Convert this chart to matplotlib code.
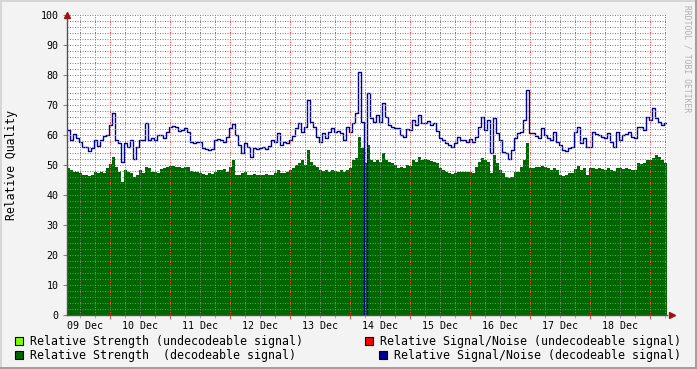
import matplotlib
matplotlib.use("Agg")
import matplotlib.pyplot as plt
from matplotlib.patches import Rectangle
import numpy as np

# ---- data (samples every 1.2 h starting 09 Dec 06:48) ----
start_hour = 6.8
step_hour = 1.2
day_labels = ["09 Dec", "10 Dec", "11 Dec", "12 Dec", "13 Dec",
              "14 Dec", "15 Dec", "16 Dec", "17 Dec", "18 Dec"]

snr_decodeable = [
    61.7, 58.3, 60.5, 58.9, 57.8, 55.9, 55.9, 54.8, 55.6, 58.3, 56.5, 58.3, 59.7, 60.0, 63.3,
    67.2, 58.3, 57.2, 51.1, 57.2, 55.9, 58.3, 52.0, 55.9, 58.3, 58.3, 64.0, 58.3, 58.9, 58.3,
    60.0, 60.0, 58.9, 61.1, 62.8,
    63.0, 62.8, 61.3, 61.7, 62.2, 61.1, 57.8, 57.4, 57.8, 57.8, 55.6, 55.2, 55.0, 55.2, 58.3,
    58.6, 58.3, 57.8, 59.4, 62.2, 63.7, 60.0, 56.7, 53.9, 57.4, 55.9, 52.8, 55.6, 55.2, 55.6,
    55.9, 55.2, 56.3,
    58.3, 57.8, 60.6, 56.7, 57.8, 57.4, 58.3, 59.7, 62.2, 63.9, 61.1, 62.8, 71.7, 64.4, 62.8,
    59.4, 57.8, 60.6, 58.9, 61.1, 62.2, 61.1, 61.4, 60.6, 58.3, 62.8, 61.1, 63.9, 67.2, 81.1,
    64.4, 0.0, 73.9,
    65.6, 64.4, 66.7, 64.4, 70.6, 65.9, 63.3, 62.8, 62.2, 62.2, 60.0, 59.2, 61.9, 61.7, 65.0,
    63.3, 66.7, 63.9, 64.1, 64.8, 63.3, 63.9, 61.4, 58.9, 58.3, 57.4, 56.7, 56.1, 57.2, 59.4,
    58.3, 58.3, 57.8,
    58.6, 57.8, 59.2, 62.8, 65.9, 61.7, 65.0, 53.9, 65.6, 60.6, 58.3, 54.4, 53.9, 51.9, 55.0,
    58.9, 60.8, 61.1, 65.0, 75.0, 60.8, 60.8, 59.7, 58.9, 62.2, 60.0, 58.9, 58.3, 61.1, 57.8,
    56.7, 55.0, 54.8, 55.6,
    55.9, 61.1, 62.8, 57.2, 58.9, 56.1, 56.1, 61.1, 60.3, 60.0, 59.4, 58.9, 60.8, 57.8, 55.9,
    61.1, 58.3, 60.0, 60.3, 61.1, 59.4, 58.9, 62.8, 62.8, 61.7, 65.9, 65.0, 68.9, 65.6, 64.4,
    63.3, 63.9,
]

strength_decodeable = [
    48.9, 48.3, 47.8, 47.8, 47.2, 46.7, 46.7, 46.3, 46.7, 47.8, 47.2, 47.8, 47.4, 48.9, 50.3,
    52.8, 49.4, 47.8, 44.4, 48.3, 47.8, 47.2, 46.1, 46.7, 48.3, 47.4, 49.4, 48.9, 47.8, 47.8,
    47.2, 48.6, 48.9, 49.4, 49.7,
    49.7, 49.4, 49.2, 48.9, 49.4, 49.4, 48.0, 47.8, 47.8, 47.2, 46.9, 46.7, 47.2, 46.9, 47.8,
    48.3, 48.3, 48.6, 47.8, 49.4, 51.7, 46.7, 46.7, 47.2, 47.8, 46.7, 46.7, 46.9, 46.7, 46.7,
    46.7, 46.9, 46.7,
    46.7, 47.2, 48.3, 47.2, 47.2, 47.8, 48.3, 48.9, 50.0, 50.6, 51.7, 50.0, 55.0, 51.1, 50.0,
    49.4, 48.3, 48.1, 48.3, 47.8, 48.3, 48.1, 47.8, 48.3, 47.8, 48.3, 48.9, 51.7, 52.2, 59.4,
    55.6, 50.6, 56.7,
    51.7, 51.1, 51.7, 51.1, 53.9, 51.7, 51.1, 50.6, 50.0, 48.9, 49.4, 48.9, 50.0, 49.7, 51.7,
    51.1, 52.8, 51.7, 51.9, 51.7, 51.3, 51.1, 50.6, 48.9, 48.3, 47.8, 47.2, 46.9, 47.2, 47.8,
    47.8, 47.8, 47.8,
    47.8, 47.4, 49.4, 51.1, 52.2, 51.7, 51.1, 47.2, 53.3, 50.6, 48.3, 47.4, 45.9, 45.6, 45.9,
    47.8, 47.8, 49.4, 51.7, 57.2, 48.9, 48.9, 49.4, 49.2, 49.7, 49.2, 48.9, 48.3, 48.9, 48.3,
    46.7, 46.3, 46.7, 47.2,
    47.2, 48.6, 49.7, 48.3, 48.9, 46.7, 48.9, 48.9, 48.6, 48.9, 48.6, 48.3, 48.9, 48.3, 48.0,
    48.9, 48.9, 48.6, 48.9, 48.6, 48.3, 48.3, 50.6, 50.3, 50.6, 51.7, 51.7, 52.2, 53.3, 52.8,
    51.7, 50.8,
]

legend_labels = [
    "Relative Strength (undecodeable signal)",
    "Relative Strength  (decodeable signal)",
    "Relative Signal/Noise (undecodeable signal)",
    "Relative Signal/Noise (decodeable signal)",
]
legend_colors = ["#80FF00", "#006600", "#FF0000", "#000090"]

# ---- figure ----
W, H = 697, 369
mono = "DejaVu Sans Mono"
fig = plt.figure(figsize=(W / 100, H / 100), dpi=100, facecolor="#F3F3F3")

def fx(px):
    return px / W

def fy(py):
    return 1 - py / H

# 3D frame
fig.add_artist(Rectangle((0, fy(2)), 1, 2 / H, transform=fig.transFigure, color="#D6D6D6", lw=0))
fig.add_artist(Rectangle((0, 0), 2 / W, 1, transform=fig.transFigure, color="#D6D6D6", lw=0))
fig.add_artist(Rectangle((0, 0), 1, 2 / H, transform=fig.transFigure, color="#A0A0A0", lw=0))
fig.add_artist(Rectangle((fx(W - 2), 0), 2 / W, 1, transform=fig.transFigure, color="#A0A0A0", lw=0))

ax = fig.add_axes([fx(67), fy(315), 600 / W, 300 / H])
ax.set_facecolor("white")

n = len(snr_decodeable)
t = start_hour + step_hour * np.arange(n + 1)
g = np.append(strength_decodeable, strength_decodeable[-1])
b = np.append(snr_decodeable, snr_decodeable[-1])

ax.fill_between(t, 0, g, step="post", color="#006600", lw=0, zorder=1)
ax.step(t, b, where="post", color="#000090", lw=1.0, zorder=2)

x0, x1 = start_hour, start_hour + step_hour * n
ax.set_xlim(x0, x1)
ax.set_ylim(0, 100)

# grid
ax.set_xticks(np.arange(24, x1, 24))
ax.set_xticks(np.arange(12, x1, 6), minor=True)
ax.set_yticks(np.arange(0, 101, 10))
ax.set_yticks(np.arange(0, 101, 2), minor=True)
ax.grid(which="minor", color=(0.5, 0.5, 0.5, 0.28), lw=0.72, ls=(0, (1, 1.5)), zorder=3)
ax.grid(which="major", color=(1.0, 0.3, 0.3, 0.32), lw=0.72, ls=(0, (1, 1.5)), zorder=4)
ax.set_axisbelow(False)

ax.set_xticklabels([])
ax.tick_params(axis="x", which="major", length=3, width=0.8, color="#E06060", direction="out")
ax.tick_params(axis="x", which="minor", length=2, width=0.6, color="#A0A0A0", direction="out")
ax.tick_params(axis="y", which="major", length=3, width=0.8, color="#E06060", direction="out",
               labelsize=7.2, pad=3)
ax.tick_params(axis="y", which="minor", length=0)
for lab in ax.get_yticklabels():
    lab.set_fontfamily(mono)

for s in ["top", "right"]:
    ax.spines[s].set_visible(False)
for s in ["left", "bottom"]:
    ax.spines[s].set_color("#505050")
    ax.spines[s].set_linewidth(1.0)
    ax.spines[s].set_zorder(6)

# arrows
ax.plot([0], [1.0], marker="^", ms=4, color="#A01010", transform=ax.transAxes, clip_on=False, zorder=7)
ax.plot([1.0 + 5 / 600], [0], marker=">", ms=4, color="#A01010", transform=ax.transAxes, clip_on=False, zorder=7)

# day labels centred at noon (first one clamped to the graph start)
xt = ax.get_xaxis_transform()
for i, lab in enumerate(day_labels):
    noon = 12 + 24 * i
    if i == 0:
        ax.text(x0, -0.02, lab, transform=xt, ha="left", va="top", fontsize=7.2, family=mono)
    else:
        ax.text(noon, -0.02, lab, transform=xt, ha="center", va="top", fontsize=7.2, family=mono)

# y label
fig.text(fx(12), fy(165), "Relative Quality", rotation=90, ha="center", va="center",
         fontsize=8.3, family=mono)

# watermark
fig.text(fx(687), fy(5), "RRDTOOL / TOBI OETIKER", rotation=270, ha="center", va="top",
         fontsize=5.8, family=mono, color="#B0B0B0")

# legend
legend_pos = [(15, 341), (15, 355), (365, 341), (379, 355)]
for (px, py), lab, col in zip(legend_pos, legend_labels, legend_colors):
    fig.add_artist(Rectangle((fx(px), fy(py + 4)), 8 / W, 8 / H, transform=fig.transFigure,
                             facecolor=col, edgecolor="black", lw=0.8))
    fig.text(fx(px + 15), fy(py), lab, ha="left", va="center", fontsize=8.4, family=mono)

fig.savefig("out.png", dpi=100, facecolor=fig.get_facecolor())
